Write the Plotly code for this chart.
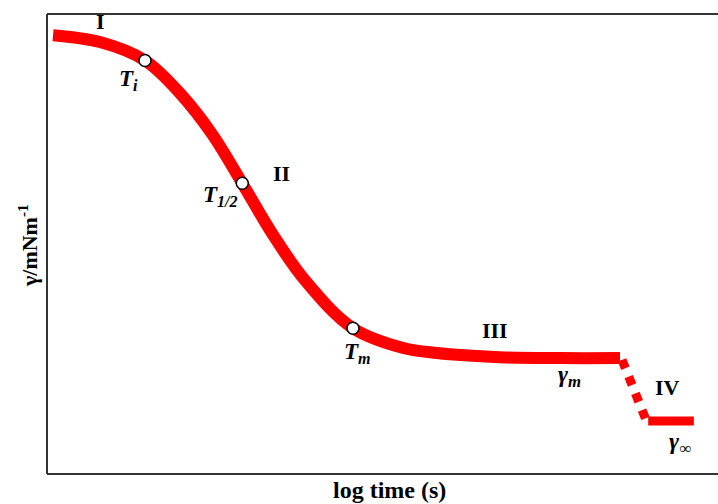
import plotly.graph_objects as go

# Schematic dynamic surface tension curve (arbitrary units)
log_t = [0.09, 0.79, 1.46, 1.98, 2.46, 2.91, 3.35, 3.84, 4.56, 5.31, 5.81, 6.75, 7.65, 8.54]
gamma = [9.54, 9.39, 8.99, 8.28, 7.39, 6.32, 5.24, 4.22, 3.17, 2.74, 2.63, 2.54, 2.52, 2.52]

# Region IV: dotted drop and final plateau
drop_t = [8.57, 8.94]
drop_g = [2.48, 1.13]
final_t = [8.96, 9.64]
final_g = [1.15, 1.15]

# Characteristic points on the curve (indices into log_t / gamma)
point_idx = [2, 5, 8]
point_names = ["<b><i>T<sub>i</sub></i></b>", "<b><i>T<sub>1/2</sub></i></b>", "<b><i>T<sub>m</sub></i></b>"]
point_label_pos = [(1.21, 8.57), (2.58, 6.04), (4.62, 2.63)]

# Region labels
region_names = ["I", "II", "III", "IV"]
region_pos = [(0.80, 9.83), (3.50, 6.54), (6.68, 3.13), (9.25, 1.89)]

# Gamma labels
gamma_names = ["<b><i>γ<sub>m</sub></i></b>", "<b><i>γ<sub>∞</sub></i></b>"]
gamma_pos = [(7.78, 2.13), (9.43, 0.67)]

RED = "#ff0000"
SERIF = "Liberation Serif"

fig = go.Figure()

# main curve
fig.add_trace(go.Scatter(x=log_t, y=gamma, mode="lines",
                         line=dict(color=RED, width=12, shape="spline", smoothing=1.0),
                         hoverinfo="skip"))

fig.add_trace(go.Scatter(x=drop_t, y=drop_g, mode="lines",
                         line=dict(color=RED, width=9, dash="dot"), hoverinfo="skip"))
fig.add_trace(go.Scatter(x=final_t, y=final_g, mode="lines",
                         line=dict(color=RED, width=9), hoverinfo="skip"))

fig.add_trace(go.Scatter(x=[log_t[i] for i in point_idx], y=[gamma[i] for i in point_idx],
                         mode="markers",
                         marker=dict(size=12, color="white", line=dict(color="black", width=1.5)),
                         hoverinfo="skip"))

annotations = []
for name, (x, y) in zip(point_names, point_label_pos):
    annotations.append(dict(x=x, y=y, text=name, showarrow=False,
                            xanchor="center", yanchor="middle",
                            font=dict(family=SERIF, size=23, color="black")))
for name, (x, y) in zip(region_names, region_pos):
    annotations.append(dict(x=x, y=y, text=f"<b>{name}</b>", showarrow=False,
                            xanchor="center", yanchor="middle",
                            font=dict(family=SERIF, size=22, color="black")))
for name, (x, y) in zip(gamma_names, gamma_pos):
    annotations.append(dict(x=x, y=y, text=name, showarrow=False,
                            xanchor="center", yanchor="middle",
                            font=dict(family=SERIF, size=24, color="black")))

# axis titles
annotations.append(dict(xref="paper", yref="paper", x=(390 - 47) / 671, y=-16 / 460,
                        xanchor="center", yanchor="middle",
                        text="<b>log time (s)</b>", showarrow=False,
                        font=dict(family=SERIF, size=24, color="black")))
annotations.append(dict(xref="paper", yref="paper", x=-19 / 671, y=(474 - 246) / 460,
                        xanchor="center", yanchor="middle",
                        text="<b>γ/mNm<sup>-1</sup></b>", showarrow=False, textangle=-90,
                        font=dict(family=SERIF, size=22, color="black")))

frame = dict(color="#333333", width=2)
shapes = [
    dict(type="line", xref="paper", yref="paper", x0=0, x1=0, y0=0, y1=1, line=frame),
    dict(type="line", xref="paper", yref="paper", x0=0, x1=1, y0=1, y1=1, line=frame),
    dict(type="line", xref="paper", yref="paper", x0=0, x1=1, y0=0, y1=0, line=frame),
]

fig.update_layout(
    width=718, height=504,
    margin=dict(l=47, r=0, t=14, b=30),
    paper_bgcolor="white", plot_bgcolor="white",
    showlegend=False,
    xaxis=dict(range=[0, 10], showgrid=False, zeroline=False, showticklabels=False,
               ticks="", showline=False, fixedrange=True),
    yaxis=dict(range=[0, 10], showgrid=False, zeroline=False, showticklabels=False,
               ticks="", showline=False, fixedrange=True),
    annotations=annotations,
    shapes=shapes,
)

fig.write_html("out.html")
